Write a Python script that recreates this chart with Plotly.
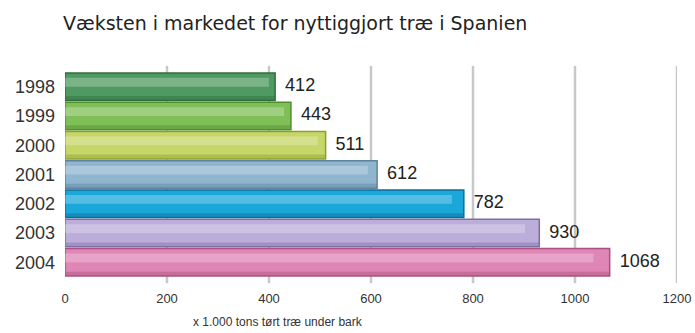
import plotly.graph_objects as go

years = ["1998", "1999", "2000", "2001", "2002", "2003", "2004"]
values = [412, 443, 511, 612, 782, 930, 1068]
colors = ["#4f9a62", "#80bf58", "#c6d668", "#8fb5cf", "#1ca7db", "#bcaedb", "#e086b6"]
edge_colors = ["#2f6e3c", "#4f8f2e", "#8f9f2e", "#5f839b", "#0b6f99", "#7f6fa3", "#a8507e"]
x_ticks = [0, 200, 400, 600, 800, 1000, 1200]

fig = go.Figure()
fig.add_trace(go.Bar(
    y=years, x=values, orientation="h",
    marker=dict(color=colors, line=dict(color=edge_colors, width=1.5)),
    width=0.94, showlegend=False, hoverinfo="skip",
))
# gloss highlight stripe
fig.add_trace(go.Bar(
    y=years, x=[v * 0.97 for v in values], orientation="h",
    marker=dict(color="rgba(255,255,255,0.25)", line=dict(width=0)),
    width=0.3, offset=-0.3, showlegend=False, hoverinfo="skip",
))
# darker bottom shade
fig.add_trace(go.Bar(
    y=years, x=values, orientation="h",
    marker=dict(color=edge_colors, opacity=0.45, line=dict(width=0)),
    width=0.14, offset=0.32, showlegend=False, hoverinfo="skip",
))
# value labels
fig.add_trace(go.Scatter(
    y=years, x=values, mode="text",
    text=["\u00a0\u00a0" + str(v) for v in values], textposition="middle right",
    textfont=dict(family="Liberation Sans", size=18, color="#222"),
    cliponaxis=False, showlegend=False, hoverinfo="skip",
))

# gridlines extending slightly beyond plot area
for t in x_ticks[1:]:
    fig.add_shape(type="line", xref="x", yref="paper", x0=t, x1=t, y0=-0.03, y1=1.03,
                  line=dict(color="#c8c8c8", width=2.5), layer="below")

fig.add_annotation(text="x 1.000 tons tørt træ under bark", xref="paper", yref="paper",
                   x=(278 - 65) / 612, y=-(322 - 277) / 205, xanchor="center", yanchor="middle",
                   showarrow=False, font=dict(family="Liberation Sans", size=12, color="#333"))

fig.update_layout(
    width=695, height=333,
    margin=dict(l=65, r=18, t=72, b=56),
    paper_bgcolor="white", plot_bgcolor="white",
    barmode="overlay", bargap=0.05,
    title=dict(text="Væksten i markedet for nyttiggjort træ i Spanien",
               font=dict(family="DejaVu Sans", size=19, color="#222"),
               x=63/695, xanchor="left", xref="container",
               y=1 - 23/333, yanchor="middle", yref="container"),
    xaxis=dict(range=[0, 1200], tickvals=x_ticks, ticktext=[str(t) for t in x_ticks],
               showgrid=False, zeroline=False, ticks="", automargin=False,
               tickfont=dict(family="Liberation Sans", size=13, color="#333"),
               ticklabelstandoff=12, showline=False),
    yaxis=dict(type="category", categoryorder="array", categoryarray=years,
               range=[len(years) - 0.5, -0.5], showgrid=False, ticks="", showline=False,
               automargin=False,
               tickfont=dict(family="Liberation Sans", size=18, color="#333"),
               ticklabelstandoff=9),
)

fig.write_html("out.html")
